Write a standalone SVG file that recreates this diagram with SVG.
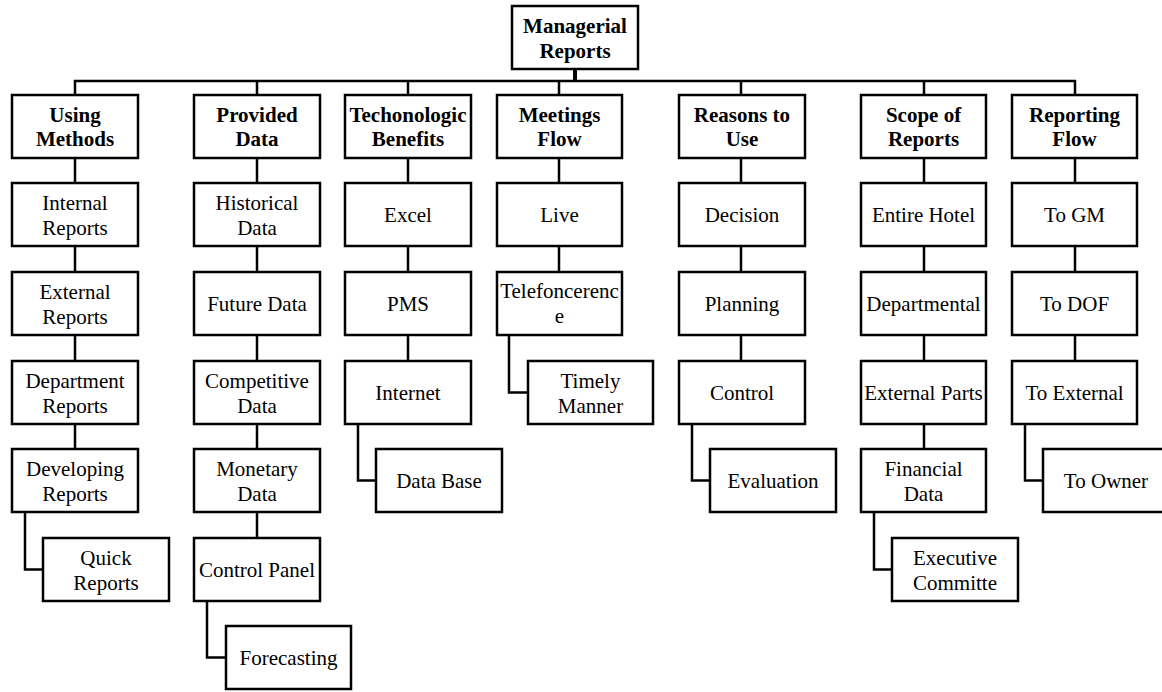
<svg xmlns="http://www.w3.org/2000/svg" width="1162" height="692" viewBox="0 0 1162 692">
<style>
rect{fill:#fff;stroke:#000;stroke-width:2.5}
text{font-family:"Liberation Serif","Times New Roman",serif;font-size:21px;text-anchor:middle;fill:#000}
.b{font-weight:bold}
#connectors path{fill:none;stroke:#000;stroke-width:2.5}
</style>
<rect x="0" y="0" width="1162" height="692" style="stroke:none"/>
<g id="connectors">
<path d="M575 69V81" style="stroke-width:4"/>
<path d="M75 95V81H1075V95M257 81V95M408 81V95M559 81V95M741 81V95M924 81V95"/>
<path d="M75 158V183M75 246V272M75 335V361M75 424V449M25 512V569.5H43"/>
<path d="M257 158V183M257 246V272M257 335V361M257 424V449M257 512V538M207 601V657.5H226"/>
<path d="M408 158V183M408 246V272M408 335V361M358 424V480.5H376"/>
<path d="M559 158V183M559 246V272M509 335V392.5H528"/>
<path d="M741 158V183M741 246V272M741 335V361M692 424V480.5H710"/>
<path d="M924 158V183M924 246V272M924 335V361M924 424V449M874 512V569.5H892"/>
<path d="M1075 158V183M1075 246V272M1075 335V361M1025 424V480.5H1043"/>
</g>
<g id="root"><rect x="512" y="6" width="126" height="63"/><text class="b" x="575" y="33">Managerial</text><text class="b" x="575" y="58">Reports</text></g>

<g id="using-methods"><rect x="12" y="95" width="126" height="63"/><text class="b" x="75" y="122">Using</text><text class="b" x="75" y="146">Methods</text></g>
<g id="internal-reports"><rect x="12" y="183" width="126" height="63"/><text x="75" y="210">Internal</text><text x="75" y="235">Reports</text></g>
<g id="external-reports"><rect x="12" y="272" width="126" height="63"/><text x="75" y="299">External</text><text x="75" y="324">Reports</text></g>
<g id="department-reports"><rect x="12" y="361" width="126" height="63"/><text x="75" y="388">Department</text><text x="75" y="413">Reports</text></g>
<g id="developing-reports"><rect x="12" y="449" width="126" height="63"/><text x="75" y="476">Developing</text><text x="75" y="501">Reports</text></g>
<g id="quick-reports"><rect x="43" y="538" width="126" height="63"/><text x="106" y="565">Quick</text><text x="106" y="590">Reports</text></g>

<g id="provided-data"><rect x="194" y="95" width="126" height="63"/><text class="b" x="257" y="122">Provided</text><text class="b" x="257" y="146">Data</text></g>
<g id="historical-data"><rect x="194" y="183" width="126" height="63"/><text x="257" y="210">Historical</text><text x="257" y="235">Data</text></g>
<g id="future-data"><rect x="194" y="272" width="126" height="63"/><text x="257" y="311">Future Data</text></g>
<g id="competitive-data"><rect x="194" y="361" width="126" height="63"/><text x="257" y="388">Competitive</text><text x="257" y="413">Data</text></g>
<g id="monetary-data"><rect x="194" y="449" width="126" height="63"/><text x="257" y="476">Monetary</text><text x="257" y="501">Data</text></g>
<g id="control-panel"><rect x="194" y="538" width="126" height="63"/><text x="257" y="577">Control Panel</text></g>
<g id="forecasting"><rect x="226" y="626" width="125" height="63"/><text x="288.5" y="665">Forecasting</text></g>

<g id="technologic-benefits"><rect x="345" y="95" width="126" height="63"/><text class="b" x="408" y="122">Techonologic</text><text class="b" x="408" y="146">Benefits</text></g>
<g id="excel"><rect x="345" y="183" width="126" height="63"/><text x="408" y="222">Excel</text></g>
<g id="pms"><rect x="345" y="272" width="126" height="63"/><text x="408" y="311">PMS</text></g>
<g id="internet"><rect x="345" y="361" width="126" height="63"/><text x="408" y="400">Internet</text></g>
<g id="data-base"><rect x="376" y="449" width="126" height="63"/><text x="439" y="488">Data Base</text></g>

<g id="meetings-flow"><rect x="497" y="95" width="125" height="63"/><text class="b" x="559.5" y="122">Meetings</text><text class="b" x="559.5" y="146">Flow</text></g>
<g id="live"><rect x="497" y="183" width="125" height="63"/><text x="559.5" y="222">Live</text></g>
<g id="teleconference"><rect x="497" y="272" width="125" height="63"/><text x="559.5" y="298">Telefoncerenc</text><text x="559.5" y="323">e</text></g>
<g id="timely-manner"><rect x="528" y="361" width="125" height="63"/><text x="590.5" y="388">Timely</text><text x="590.5" y="413">Manner</text></g>

<g id="reasons-to-use"><rect x="679" y="95" width="126" height="63"/><text class="b" x="742" y="122">Reasons to</text><text class="b" x="742" y="146">Use</text></g>
<g id="decision"><rect x="679" y="183" width="126" height="63"/><text x="742" y="222">Decision</text></g>
<g id="planning"><rect x="679" y="272" width="126" height="63"/><text x="742" y="311">Planning</text></g>
<g id="control"><rect x="679" y="361" width="126" height="63"/><text x="742" y="400">Control</text></g>
<g id="evaluation"><rect x="710" y="449" width="126" height="63"/><text x="773" y="488">Evaluation</text></g>

<g id="scope-of-reports"><rect x="861" y="95" width="125" height="63"/><text class="b" x="923.5" y="122">Scope of</text><text class="b" x="923.5" y="146">Reports</text></g>
<g id="entire-hotel"><rect x="861" y="183" width="125" height="63"/><text x="923.5" y="222">Entire Hotel</text></g>
<g id="departmental"><rect x="861" y="272" width="125" height="63"/><text x="923.5" y="311">Departmental</text></g>
<g id="external-parts"><rect x="861" y="361" width="125" height="63"/><text x="923.5" y="400">External Parts</text></g>
<g id="financial-data"><rect x="861" y="449" width="125" height="63"/><text x="923.5" y="476">Financial</text><text x="923.5" y="501">Data</text></g>
<g id="executive-committe"><rect x="892" y="538" width="126" height="63"/><text x="955" y="565">Executive</text><text x="955" y="590">Committe</text></g>

<g id="reporting-flow"><rect x="1012" y="95" width="125" height="63"/><text class="b" x="1074.5" y="122">Reporting</text><text class="b" x="1074.5" y="146">Flow</text></g>
<g id="to-gm"><rect x="1012" y="183" width="125" height="63"/><text x="1074.5" y="222">To GM</text></g>
<g id="to-dof"><rect x="1012" y="272" width="125" height="63"/><text x="1074.5" y="311">To DOF</text></g>
<g id="to-external"><rect x="1012" y="361" width="125" height="63"/><text x="1074.5" y="400">To External</text></g>
<g id="to-owner"><rect x="1043" y="449" width="126" height="63"/><text x="1106" y="488">To Owner</text></g>
</svg>
